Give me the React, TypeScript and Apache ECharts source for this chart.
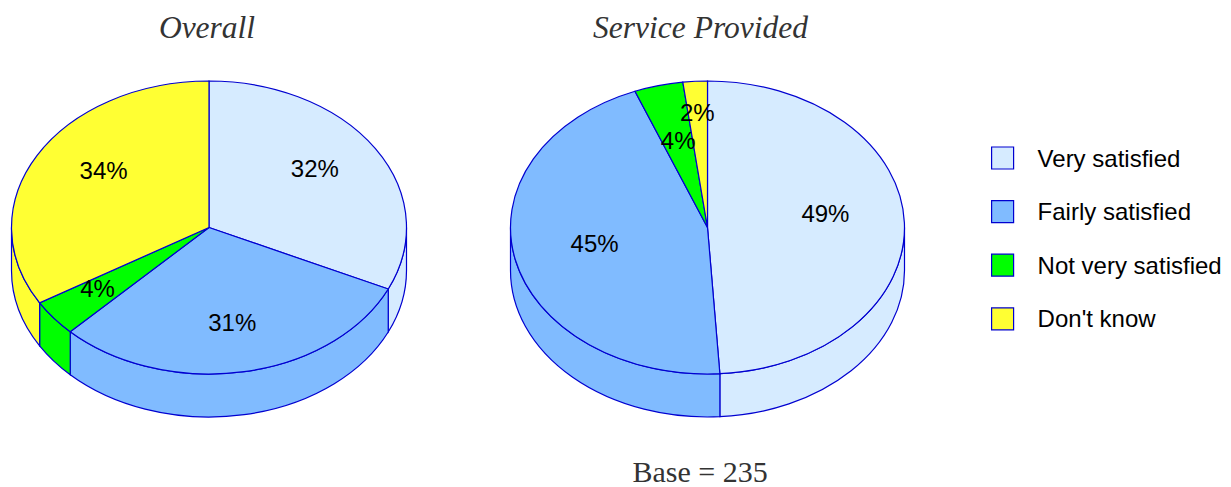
import React, { useEffect, useRef } from "react";
import * as echarts from "echarts";

const categories = ["Very satisfied", "Fairly satisfied", "Not very satisfied", "Don't know"];
const pieTitles = ["Overall", "Service Provided"];
const baseNote = "Base = 235";
// Share of each category, one entry per pie (Overall, Service Provided)
const verySatisfied = [31.9, 49.0];
const fairlySatisfied = [30.5, 45.0];
const notVerySatisfied = [4.0, 4.0];
const dontKnow = [33.6, 2.0];

const seriesValues = [verySatisfied, fairlySatisfied, notVerySatisfied, dontKnow];

const colors = ["#D6EBFF", "#80BBFF", "#00FF00", "#FFFF33"];
const strokeColor = "#0000D0";
const pies = [
  { cx: 209, cy: 227.5, rx: 197.5, ry: 146.5, depth: 43 },
  { cx: 707.5, cy: 227.5, rx: 197, ry: 146.5, depth: 43 },
];
// Pixel nudges of the percentage labels from their default place, [pie][category]
const labelNudge = [
  [[-4, -7], [0, 0], [-9, 1], [8, -9]],
  [[-12, -11], [14, -5], [3, 7], [-2, -19]],
];
const labelRadius = 0.66;

const pt = (p: any, a: number, dy = 0) => {
  const r = (a * Math.PI) / 180;
  return [p.cx + p.rx * Math.sin(r), p.cy - p.ry * Math.cos(r) + dy];
};

const renderSlice = (seriesIndex: number) => (_params: any, api: any) => {
  const pieIndex = _params.dataIndex;
  const p = pies[pieIndex];
  const value = api.value(0);
  let before = 0;
  let total = 0;
  seriesValues.forEach((vals, i) => {
    if (i < seriesIndex) before += vals[pieIndex];
    total += vals[pieIndex];
  });
  const a0 = (before / total) * 360;
  const a1 = ((before + value) / total) * 360;
  const fill = colors[seriesIndex];
  const style = { fill, stroke: strokeColor, lineWidth: 1.2 };
  const children: any[] = [];

  const w0 = Math.max(a0, 90);
  const w1 = Math.min(a1, 270);
  if (w1 > w0) {
    const s = pt(p, w0);
    const e = pt(p, w1);
    const large = w1 - w0 > 180 ? 1 : 0;
    children.push({
      type: "path",
      z2: 1,
      shape: {
        pathData:
          `M${s[0]} ${s[1]} A${p.rx} ${p.ry} 0 ${large} 1 ${e[0]} ${e[1]} ` +
          `L${e[0]} ${e[1] + p.depth} A${p.rx} ${p.ry} 0 ${large} 0 ${s[0]} ${s[1] + p.depth} Z`,
      },
      style,
    });
  }

  const s = pt(p, a0);
  const e = pt(p, a1);
  children.push({
    type: "path",
    z2: 2,
    shape: {
      pathData:
        `M${p.cx} ${p.cy} L${s[0]} ${s[1]} ` +
        `A${p.rx} ${p.ry} 0 ${a1 - a0 > 180 ? 1 : 0} 1 ${e[0]} ${e[1]} Z`,
    },
    style,
  });

  const mid = ((a0 + a1) / 2) * (Math.PI / 180);
  const nudge = labelNudge[pieIndex][seriesIndex];
  children.push({
    type: "text",
    z2: 3,
    style: {
      text: `${Math.round((value / total) * 100)}%`,
      x: p.cx + p.rx * labelRadius * Math.sin(mid) + nudge[0],
      y: p.cy - p.ry * labelRadius * Math.cos(mid) + nudge[1],
      align: "center",
      verticalAlign: "middle",
      fill: "#000",
      fontSize: 24,
      fontFamily: "Liberation Sans",
    },
  });
  return { type: "group", children };
};

export default function App() {
  const ref = useRef<HTMLDivElement>(null);
  useEffect(() => {
    document.body.style.margin = "0";
    const chart = echarts.init(ref.current!, null, { renderer: "svg" });
    const titleFont = { fontFamily: "Liberation Serif", fontSize: 31.5, fontWeight: "normal", color: "#333" };
    chart.setOption({
      animation: false,
      backgroundColor: "#fff",
      title: [
        { text: pieTitles[0], left: 207, top: 11, textAlign: "center", padding: 0, textStyle: { ...titleFont, fontStyle: "italic" } },
        { text: pieTitles[1], left: 700.5, top: 11, textAlign: "center", padding: 0, textStyle: { ...titleFont, fontStyle: "italic" } },
        { text: baseNote, left: 700, top: 456, textAlign: "center", padding: 0, textStyle: { ...titleFont, fontSize: 30 } },
      ],
      legend: {
        orient: "vertical",
        left: 991,
        top: 146,
        padding: 0,
        icon: "rect",
        itemWidth: 22,
        itemHeight: 22,
        itemGap: 29.6,
        selectedMode: false,
        textStyle: { fontFamily: "Liberation Sans", fontSize: 24, color: "#000", padding: [0, 0, 2, 19] },
        itemStyle: { borderColor: strokeColor, borderWidth: 1.2 },
        data: categories,
      },
      series: categories.map((name, i) => ({
        type: "custom",
        name,
        coordinateSystem: "none",
        clip: false,
        itemStyle: { color: colors[i], borderColor: strokeColor, borderWidth: 1.2 },
        renderItem: renderSlice(i),
        data: seriesValues[i].map((v) => [v]),
      })),
    });
    return () => chart.dispose();
  }, []);
  return <div ref={ref} style={{ width: 1231, height: 487 }} />;
}
